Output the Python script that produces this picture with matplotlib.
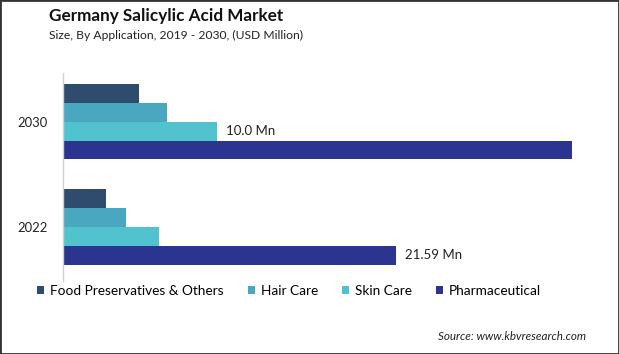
import matplotlib
matplotlib.use("Agg")
import matplotlib.pyplot as plt
from matplotlib.patches import Patch, Rectangle

plt.rcParams['font.family'] = ['Lato', 'DejaVu Sans']

years = ["2022", "2030"]
segments = ["Food Preservatives & Others", "Hair Care", "Skin Care", "Pharmaceutical"]
values = {
    "Food Preservatives & Others": [2.81, 4.93],
    "Hair Care": [4.10, 6.74],
    "Skin Care": [6.24, 10.0],
    "Pharmaceutical": [21.59, 33.02],
}
colors = ["#2f4b6e", "#4aa7c0", "#50c3cf", "#2b3590"]
labels = {("Skin Care", 1): "10.0 Mn", ("Pharmaceutical", 0): "21.59 Mn"}

W, H = 619, 354
fig = plt.figure(figsize=(W/100, H/100), dpi=100)
ax = fig.add_axes([63/W, 1-281/H, (600-63)/W, (281-73)/H])

h = 0.18
offsets = [1.5*h, 0.5*h, -0.5*h, -1.5*h]
for i, seg in enumerate(segments):
    for j, y in enumerate(years):
        v = values[seg][j]
        ax.barh(j + offsets[i], v, height=h, color=colors[i], edgecolor='none')
        if (seg, j) in labels:
            ax.text(v + 0.55, j + offsets[i], labels[(seg, j)], va='center', ha='left',
                    fontsize=9.5, color='#222222')

ax.set_xlim(0, 34.81)
ax.set_ylim(-0.512, 1.46)
ax.set_yticks([0, 1])
ax.set_yticklabels(years, fontsize=9.4, color='#222222')
ax.tick_params(axis='y', length=0, pad=11)
ax.set_xticks([])
for s in ['top', 'right', 'bottom']:
    ax.spines[s].set_visible(False)
ax.spines['left'].set_color('#d0d0d0')
ax.spines['left'].set_linewidth(1)

fig.text(49/W, 1-16/H, "Germany Salicylic Acid Market", fontsize=12.3, fontweight='bold',
         va='center', ha='left', color='#111111')
fig.text(49/W, 1-35/H, "Size, By Application, 2019 - 2030, (USD Million)", fontsize=8.7,
         va='center', ha='left', color='#222222')

handles = [Patch(facecolor=c, edgecolor='none') for c in colors]
fig.legend(handles, segments, loc='center left', bbox_to_anchor=(37/W, 1-291/H),
           ncol=4, frameon=False, fontsize=9.8, handlelength=0.55, handleheight=0.55,
           handletextpad=0.42, columnspacing=1.75, borderaxespad=0, borderpad=0)

fig.text(586/W, 1-337/H, "Source: www.kbvresearch.com", fontsize=8.4, style='italic',
         ha='right', va='center', color='#222222')

fig.patches.append(Rectangle((0, 0), 1, 1, transform=fig.transFigure, fill=False,
                             edgecolor='#333333', linewidth=2))

fig.savefig("out.png", dpi=100)
